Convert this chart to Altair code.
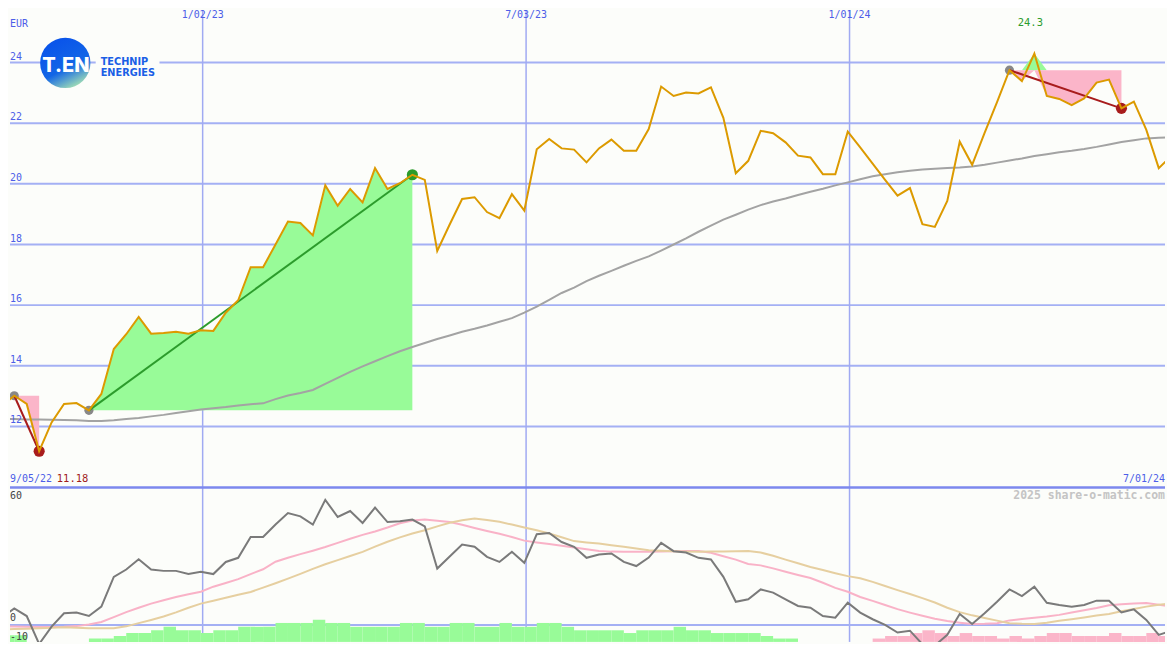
import altair as alt
import pandas as pd

# ---------------- data ----------------
week_dates = pd.date_range("2022-09-11", periods=96, freq="7D")
weeks = [d.strftime("%Y-%m-%dT00:00:00") for d in week_dates]

price = [12.68, 13.01, 12.74, 11.18, 12.13, 12.74, 12.77, 12.53, 13.07, 14.55,
         15.04, 15.61, 15.06, 15.08, 15.12, 15.06, 15.17, 15.15, 15.75, 16.16,
         17.25, 17.25, 18.00, 18.76, 18.71, 18.30, 19.95, 19.28, 19.83, 19.39,
         20.52, 19.83, 20.02, 20.30, 20.13, 17.79, 18.66, 19.50, 19.56, 19.07,
         18.87, 19.66, 19.12, 21.14, 21.48, 21.17, 21.13, 20.71, 21.17, 21.46,
         21.09, 21.09, 21.81, 23.21, 22.90, 23.01, 22.98, 23.18, 22.18, 20.35,
         20.76, 21.75, 21.67, 21.37, 20.93, 20.87, 20.32, 20.32, 21.72, 21.20,
         20.67, 20.13, 19.61, 19.86, 18.67, 18.58, 19.44, 21.39, 20.63, 21.68,
         22.70, 23.75, 23.39, 24.30, 22.90, 22.80, 22.60, 22.82, 23.34, 23.44,
         22.49, 22.71, 21.78, 20.52, 20.92]

ma40 = [12.24, 12.24, 12.23, 12.23, 12.22, 12.21, 12.20, 12.18, 12.18, 12.20,
        12.24, 12.28, 12.33, 12.38, 12.44, 12.50, 12.56, 12.60, 12.64, 12.69,
        12.73, 12.76, 12.90, 13.02, 13.10, 13.20, 13.40, 13.60, 13.80, 13.98,
        14.15, 14.32, 14.48, 14.62, 14.75, 14.88, 15.00, 15.12, 15.22, 15.33,
        15.45, 15.57, 15.75, 15.95, 16.17, 16.40, 16.58, 16.79, 16.97, 17.13,
        17.30, 17.46, 17.61, 17.80, 18.00, 18.20, 18.42, 18.62, 18.82, 18.98,
        19.15, 19.30, 19.42, 19.52, 19.63, 19.74, 19.84, 19.95, 20.05, 20.15,
        20.25, 20.32, 20.38, 20.43, 20.47, 20.50, 20.52, 20.54, 20.57, 20.63,
        20.70, 20.77, 20.84, 20.92, 20.98, 21.04, 21.09, 21.15, 21.22, 21.30,
        21.38, 21.44, 21.50, 21.52, 21.53]

osc = [3.3, 7.2, 3.9, -8.3, -0.7, 5.1, 5.4, 3.9, 8.0, 21.0,
       24.2, 28.7, 24.2, 23.6, 23.6, 22.2, 23.2, 22.2, 27.5, 29.3,
       38.4, 38.4, 43.8, 48.8, 47.4, 43.8, 54.6, 47.1, 49.7, 44.5,
       51.2, 44.9, 45.3, 46.0, 43.0, 24.6, 29.9, 35.1, 34.1, 29.7,
       27.5, 31.9, 27.1, 39.6, 40.1, 36.2, 34.1, 29.3, 30.7, 31.2,
       27.5, 25.7, 29.4, 35.8, 32.2, 31.6, 29.3, 28.6, 21.0, 10.1,
       11.2, 15.5, 14.1, 11.2, 8.3, 7.5, 3.9, 3.2, 9.7, 5.4,
       2.5, 0.0, -3.3, -2.5, -8.4, -9.0, -4.3, 4.8, 0.4, 5.1,
       10.1, 15.5, 12.6, 16.7, 9.7, 8.7, 8.0, 8.7, 10.6, 10.6,
       5.5, 6.8, 2.2, -4.3, -2.5]

sig_pink = [-0.7, -0.7, -0.8, -0.9, -0.9, -0.8, -0.5, 0.2, 1.3, 3.4,
            5.6, 7.5, 9.3, 10.8, 12.2, 13.4, 14.5, 16.7, 18.3, 20.0,
            22.2, 24.3, 27.6, 29.3, 30.9, 32.4, 34.0, 35.8, 37.6, 39.3,
            40.8, 42.5, 44.4, 45.6, 46.0, 45.5, 44.9, 43.7, 42.3, 41.0,
            39.8, 38.4, 36.8, 36.0, 35.3, 34.6, 33.8, 33.0, 32.3, 32.0,
            31.9, 31.9, 31.9, 32.0, 32.2, 32.3, 32.3, 31.5, 30.0, 28.5,
            26.6, 26.0, 24.7, 23.2, 21.8, 20.5, 18.4, 16.2, 14.5, 12.2,
            10.5, 8.7, 6.9, 5.4, 4.0, 2.7, 1.7, 1.0, 0.4, 0.5,
            0.8, 2.0, 2.6, 3.2, 3.7, 4.4, 5.4, 6.4, 7.4, 8.6,
            9.0, 9.4, 9.6, 8.8, 8.0]

sig_tan = [-1.9, -1.8, -1.6, -1.4, -1.2, -1.0, -1.2, -1.4, -1.4, -1.4,
           -0.6, 0.8, 2.2, 3.7, 5.5, 7.5, 9.3, 10.6, 11.9, 13.2,
           14.4, 16.3, 18.2, 20.2, 22.3, 24.5, 26.5, 28.3, 30.1, 31.9,
           34.2, 36.3, 38.2, 39.9, 41.3, 43.0, 44.6, 45.7, 46.4, 45.8,
           45.0, 43.8, 42.5, 41.3, 39.9, 38.3, 36.6, 36.0, 35.5, 34.8,
           34.1, 33.4, 32.6, 32.4, 32.2, 32.0, 31.9, 32.0, 32.1, 32.2,
           32.3, 31.6, 30.2, 28.5, 26.9, 25.3, 24.0, 22.6, 21.3, 20.4,
           18.8, 17.0, 15.2, 13.5, 11.7, 9.8, 7.5, 5.6, 4.2, 3.0,
           1.9, 0.8, 0.5, 0.4, 1.0, 1.8, 2.5, 3.3, 4.1, 4.8,
           6.0, 7.0, 8.0, 8.8, 9.4]

hist_top = [-8.0, -8.0, None, None, None, None, None, -9.4, -9.4, -8.3,
            -7.0, -7.0, -5.8, -4.3, -5.8, -5.8, -7.0, -5.8, -5.8, -4.3,
            -4.3, -4.3, -2.6, -2.6, -2.6, -1.2, -2.6, -2.6, -4.3, -4.3,
            -4.3, -4.3, -2.6, -2.6, -4.3, -4.3, -2.6, -2.6, -4.3, -4.3,
            -2.6, -4.3, -4.3, -2.6, -2.6, -4.3, -5.8, -5.8, -5.8, -5.8,
            -7.0, -5.8, -5.8, -5.8, -4.3, -5.8, -5.8, -7.0, -7.0, -7.0,
            -7.0, -8.3, -9.4, -9.4, None, None, None, None, None, None,
            -9.4, -8.3, -8.3, -7.0, -5.8, -7.0, -8.3, -7.0, -8.3, -8.3,
            -9.4, -8.3, -9.4, -8.3, -7.0, -7.0, -8.3, -8.3, -8.3, -7.0,
            -8.3, -8.3, -7.0, -8.3, -8.3]
hist_dir = ["up"] * 64 + ["down"] * 31

grid_levels = [12, 14, 16, 18, 20, 22, 24]
grid_dates = ["2023-01-02T00:00:00", "2023-07-03T00:00:00", "2024-01-01T00:00:00"]
grid_labels = ["1/02/23", "7/03/23", "1/01/24"]
lower_levels = [0]
lower_bottom = -10
lower_top = 60
seg_start = [1, 7, 81]
seg_end = [3, 33, 90]
currency = "EUR"
first_label = "9/05/22"
last_label = "7/01/24"
credit = "2025 share-o-matic.com"

# ---------------- tables ----------------
N = len(price)
df = pd.DataFrame({
    "date": weeks[:N], "next": weeks[1:N + 1], "price": price, "ma": ma40,
    "osc": osc, "pink": sig_pink, "tan": sig_tan, "hist": hist_top, "dir": hist_dir,
})

fill_rows, trend_rows = [], []
for s, (a, b) in enumerate(zip(seg_start, seg_end)):
    lvl = price[a]
    for i in range(a, b + 1):
        fill_rows.append({"seg": s, "date": weeks[i], "level": lvl,
                          "hi": max(price[i], lvl), "lo": min(price[i], lvl)})
    trend_rows.append({"d0": weeks[a], "p0": price[a], "d1": weeks[b], "p1": price[b],
                       "dir": "up" if price[b] > price[a] else "down"})
fill_df = pd.DataFrame(fill_rows)
trend_df = pd.DataFrame(trend_rows)

imax = price.index(max(price))
max_df = pd.DataFrame({"date": [weeks[imax]], "t": [f"{price[imax]:.1f}"]})

# ---------------- scales ----------------
W, H_UP, H_LO = 1159, 479, 155
MONO = "DejaVu Sans Mono"
BLUE = "#4d5ee8"
BG = "#fcfdfa"

xs = alt.Scale(domain=[alt.DateTime(year=2022, month=9, date=15, hours=14, minutes=10),
                       alt.DateTime(year=2024, month=6, date=26, hours=12, minutes=19)])
ys_up = alt.Scale(domain=[9.986, 25.732], nice=False, zero=False)
ys_lo = alt.Scale(domain=[-7.391, 60], nice=False, zero=False)
# histogram keeps its height above the panel floor
ys_bar = alt.Scale(domain=[-10.87, 56.522], nice=False, zero=False)
dir_scale_up = alt.Scale(domain=["up", "down"], range=["#2c9c2c", "#a81c1c"])
dir_scale_lo = alt.Scale(domain=["up", "down"], range=["#98fb98", "#fbb5c9"])


def X(f="date"):
    return alt.X(f"{f}:T", scale=xs, axis=None)


def YU(f):
    return alt.Y(f"{f}:Q", scale=ys_up, axis=None)


def YL(f):
    return alt.Y(f"{f}:Q", scale=ys_lo, axis=None)


# ---------------- upper panel ----------------
hgrid = alt.Chart(pd.DataFrame({"v": grid_levels})).mark_rule(
    color="#a4b0f4", strokeWidth=2).encode(y=YU("v"))
vgrid_df = pd.DataFrame({"d": grid_dates, "t": grid_labels})
vgrid = alt.Chart(vgrid_df).mark_rule(color="#a0aaf2", strokeWidth=1.5).encode(x=X("d"))

green_fill = alt.Chart(fill_df).mark_area(color="#98fb98", opacity=1, clip=True).encode(
    x=X("date"), y=YU("hi"), y2="level:Q", detail="seg:N")
pink_fill = alt.Chart(fill_df).mark_area(color="#fbb5c9", opacity=1, clip=True).encode(
    x=X("date"), y=YU("lo"), y2="level:Q", detail="seg:N")

ma_line = alt.Chart(df).mark_line(color="#a3a3a3", strokeWidth=2, clip=True).encode(
    x=X(), y=YU("ma"))

start_pts = alt.Chart(trend_df).mark_circle(size=85, color="#888888", opacity=1, clip=True).encode(
    x=X("d0"), y=YU("p0"))
end_pts = alt.Chart(trend_df).mark_circle(size=125, opacity=1, clip=True).encode(
    x=X("d1"), y=YU("p1"), color=alt.Color("dir:N", scale=dir_scale_up, legend=None))
trend = alt.Chart(trend_df).mark_rule(strokeWidth=2).encode(
    x=X("d0"), x2="d1:T", y=YU("p0"), y2="p1:Q",
    color=alt.Color("dir:N", scale=dir_scale_up, legend=None))

price_line = alt.Chart(df).mark_line(color="#dc9a00", strokeWidth=2, clip=True).encode(
    x=X(), y=YU("price"))

ylabels = alt.Chart(pd.DataFrame({"v": grid_levels, "t": [str(v) for v in grid_levels]})).mark_text(
    align="left", baseline="middle", dy=-6, font=MONO, fontSize=10, color=BLUE).encode(
    x=alt.value(0), y=YU("v"), text="t:N")
date_labels = alt.Chart(vgrid_df).mark_text(
    align="center", baseline="top", font=MONO, fontSize=10, color=BLUE).encode(
    x=X("d"), y=alt.value(0), text="t:N")
one = pd.DataFrame({"a": [0]})
eur = alt.Chart(one).mark_text(text=currency, align="left", baseline="middle", font=MONO,
                               fontSize=10, color=BLUE).encode(x=alt.value(0), y=alt.value(14))
max_lab = alt.Chart(max_df).mark_text(align="center", baseline="middle", dx=-4, font=MONO,
                                      fontSize=10.5, color="#2c9c2c").encode(
    x=X("date"), y=alt.value(13), text="t:N")
first_lab = alt.Chart(one).mark_text(text=first_label, align="left", baseline="middle", font=MONO,
                                     fontSize=10, color=BLUE).encode(x=alt.value(0), y=alt.value(471))
min_lab = alt.Chart(one).mark_text(text=f"{min(price):.2f}", align="left", baseline="middle",
                                   font=MONO, fontSize=10.5, color="#a01c1c").encode(
    x=alt.value(47), y=alt.value(471))
last_lab = alt.Chart(one).mark_text(text=last_label, align="right", baseline="middle", font=MONO,
                                    fontSize=10, color=BLUE).encode(x=alt.value(W), y=alt.value(471))

# logo
logo_bg = alt.Chart(one).mark_rect(color=BG).encode(
    x=alt.value(86), x2=alt.value(150), y=alt.value(48), y2=alt.value(58))
logo_circle = alt.Chart(one).mark_circle(
    size=2550, opacity=1,
    color=alt.LinearGradient(gradient="linear",
                             stops=[alt.GradientStop(color="#0a55ea", offset=0),
                                    alt.GradientStop(color="#1366e6", offset=0.55),
                                    alt.GradientStop(color="#aeeab0", offset=1)],
                             x1=0.3, y1=0.1, x2=0.75, y2=1)).encode(
    x=alt.value(55.5), y=alt.value(53))
logo_t = alt.Chart(one).mark_text(text="T.EN", font="Inter", fontWeight=800, fontSize=20,
                                  color="white", align="center", baseline="middle").encode(
    x=alt.value(56), y=alt.value(56))
logo_a = alt.Chart(one).mark_text(text="TECHNIP", font="DejaVu Sans", fontWeight="bold",
                                  fontSize=9.8, color="#1a5fe6", align="left",
                                  baseline="middle").encode(x=alt.value(91), y=alt.value(52))
logo_b = alt.Chart(one).mark_text(text="ENERGIES", font="DejaVu Sans", fontWeight="bold",
                                  fontSize=9.8, color="#1a5fe6", align="left",
                                  baseline="middle").encode(x=alt.value(91), y=alt.value(63))

upper = alt.layer(
    hgrid, vgrid, green_fill, pink_fill, ma_line, start_pts, end_pts, trend, price_line,
    ylabels, date_labels, eur, max_lab, first_lab, min_lab, last_lab,
    logo_bg, logo_circle, logo_t, logo_a, logo_b,
).properties(width=W, height=H_UP)

# ---------------- lower panel ----------------
vgrid_lo = alt.Chart(vgrid_df).mark_rule(color="#a0aaf2", strokeWidth=1.5).encode(x=X("d"))
zero_line = alt.Chart(pd.DataFrame({"v": [0]})).mark_rule(color="#a4b0f4", strokeWidth=2).encode(
    y=YL("v"))
bars = alt.Chart(df).transform_filter("isValid(datum.hist)").mark_rect(clip=True).encode(
    x=X(), x2="next:T", y=alt.Y("hist:Q", scale=ys_bar, axis=None), y2=alt.value(H_LO),
    color=alt.Color("dir:N", scale=dir_scale_lo, legend=None))
pink_line = alt.Chart(df).mark_line(color="#f9b2c7", strokeWidth=2, clip=True).encode(
    x=X(), y=YL("pink"))
tan_line = alt.Chart(df).mark_line(color="#e6cfa0", strokeWidth=2, clip=True).encode(
    x=X(), y=YL("tan"))
osc_line = alt.Chart(df).mark_line(color="#7a7a7a", strokeWidth=2, clip=True).encode(
    x=X(), y=YL("osc"))
sep_line = alt.Chart(pd.DataFrame({"v": [lower_top]})).mark_rule(
    color="#7d88ee", strokeWidth=2.5).encode(y=YL("v"))
lo_labels = alt.Chart(pd.DataFrame({"v": lower_levels, "t": [str(v) for v in lower_levels]})).mark_text(
    align="left", baseline="middle", dy=-6.5, font=MONO, fontSize=10, color="#444444").encode(
    x=alt.value(0), y=YL("v"), text="t:N")
top_label = alt.Chart(one).mark_text(text=str(lower_top), align="left", baseline="middle",
                                     font=MONO, fontSize=10, color="#444444").encode(
    x=alt.value(0), y=alt.value(9))
bottom_label = alt.Chart(one).mark_text(text=str(lower_bottom), align="left", baseline="bottom",
                                        font=MONO, fontSize=10, color="#444444").encode(
    x=alt.value(0), y=alt.value(H_LO))
credit_lab = alt.Chart(one).mark_text(text=credit, align="right", baseline="middle", font=MONO,
                                      fontSize=11.5, fontWeight="bold", color="#c4c4c4").encode(
    x=alt.value(W), y=alt.value(9))

lower = alt.layer(
    vgrid_lo, zero_line, bars, pink_line, tan_line, osc_line, sep_line,
    lo_labels, top_label, bottom_label, credit_lab,
).resolve_scale(y="independent").properties(width=W, height=H_LO)

chart = alt.vconcat(upper, lower, spacing=0, bounds="flush").resolve_scale(
    y="independent", color="independent"
).properties(padding=0, background=BG).configure_view(stroke=None)

chart.save("out.html", embed_options={"renderer": "svg", "actions": False})
